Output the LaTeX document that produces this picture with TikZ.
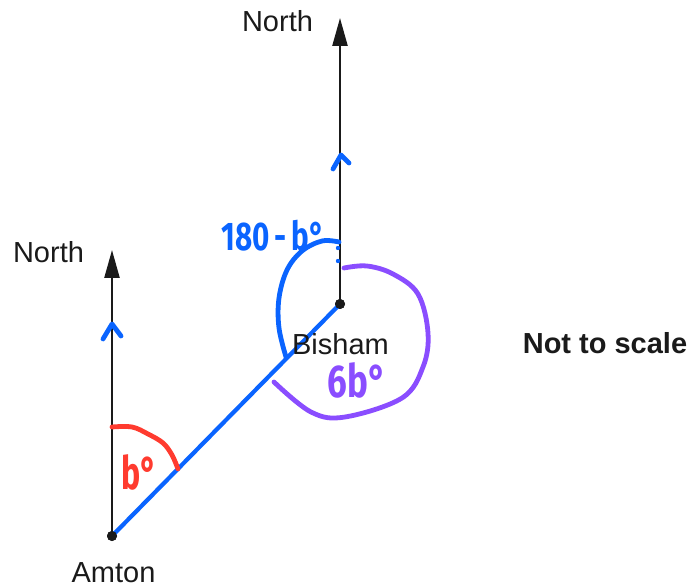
\documentclass[tikz,border=0pt]{standalone}
\usepackage{fontspec}
\setmainfont{Liberation Sans}
\newfontfamily\handfont{Fira Sans}
\usetikzlibrary{arrows.meta}
\definecolor{penblue}{HTML}{0A64FF}
\definecolor{penred}{HTML}{FF3B2F}
\definecolor{penpurple}{HTML}{8A4DFF}
\definecolor{inkblack}{HTML}{1A1A1A}
\begin{document}
\begin{tikzpicture}[x=1pt,y=-1pt,
  dot/.style={circle,fill=inkblack,draw=none,minimum size=10pt,inner sep=0pt},
  northarrow/.style={draw=inkblack,line width=2.4pt,-{Triangle[width=15pt,length=28pt]}},
  lbl/.style={font=\fontsize{29}{32}\selectfont,text=inkblack,inner sep=0pt},
  pen/.style={line width=4.8pt,line cap=round,line join=round},
  hand/.style={font=\handfont\bfseries\fontsize{40}{44}\selectfont,inner sep=0pt}
]
\useasboundingbox (0,0) rectangle (689,588);
% points
\coordinate (NA) at (112,250);
\coordinate (NB) at (340,18);
\path (112,536) node[dot] (A) {} (340,304) node[dot] (B) {};
\draw[northarrow] (A.center) -- (NA);
\draw[northarrow] (B.center) -- (NB);
% parallel marks
\draw[pen,penblue] (103,339) -- (112,324) -- (121,336);
\draw[pen,penblue] (333,169) -- (341,155) -- (349,163);
% bearing line
\draw[penblue,line width=4.2pt,line cap=round] (A.center) -- (B.center);
\fill[inkblack] (A.center) circle (5pt);
\fill[inkblack] (B.center) circle (5pt);
% red arc
\draw[pen,penred] plot[smooth,tension=0.6] coordinates {(112,427) (132,427) (148,434) (163,443) (172,455) (178,469)};
% blue arc at Bisham
\draw[pen,penblue] plot[smooth,tension=0.6] coordinates {(339,242) (322,241) (302,251) (287,270) (279,298) (279,328) (286,357)};
\fill[penblue] (338,248) circle (2.2pt);
\fill[penblue] (338,261) circle (2.2pt);
% purple arc
\draw[pen,penpurple] plot[smooth,tension=0.6] coordinates {(344,268) (367,266) (393,274) (418,294) (428,333) (423,367) (402,398) (345,417) (311,412) (274,382)};
% labels
\node[lbl] (northA) at (48.5,252) {North};
\node[lbl] (northB) at (277.5,21) {North};
\node[lbl] (amton) at (113.5,573) {Amton};
\node[lbl] (bisham) at (340.5,344) {Bisham};
\node[lbl,font=\bfseries\fontsize{29}{32}\selectfont] (nts) at (605,343) {Not to scale};
% handwritten labels
\node[hand,text=penblue] (l180) at (273,236) {\scalebox{0.74}[1]{180\,-\,b\textdegree}};
\node[hand,text=penred,font=\handfont\bfseries\fontsize{46}{50}\selectfont] (lb) at (139,472) {\scalebox{0.7}[1]{b\textdegree}};
\node[hand,text=penpurple,font=\handfont\bfseries\fontsize{46}{50}\selectfont] (l6b) at (357,380) {\scalebox{0.76}[1]{6b\textdegree}};
\end{tikzpicture}
\end{document}
